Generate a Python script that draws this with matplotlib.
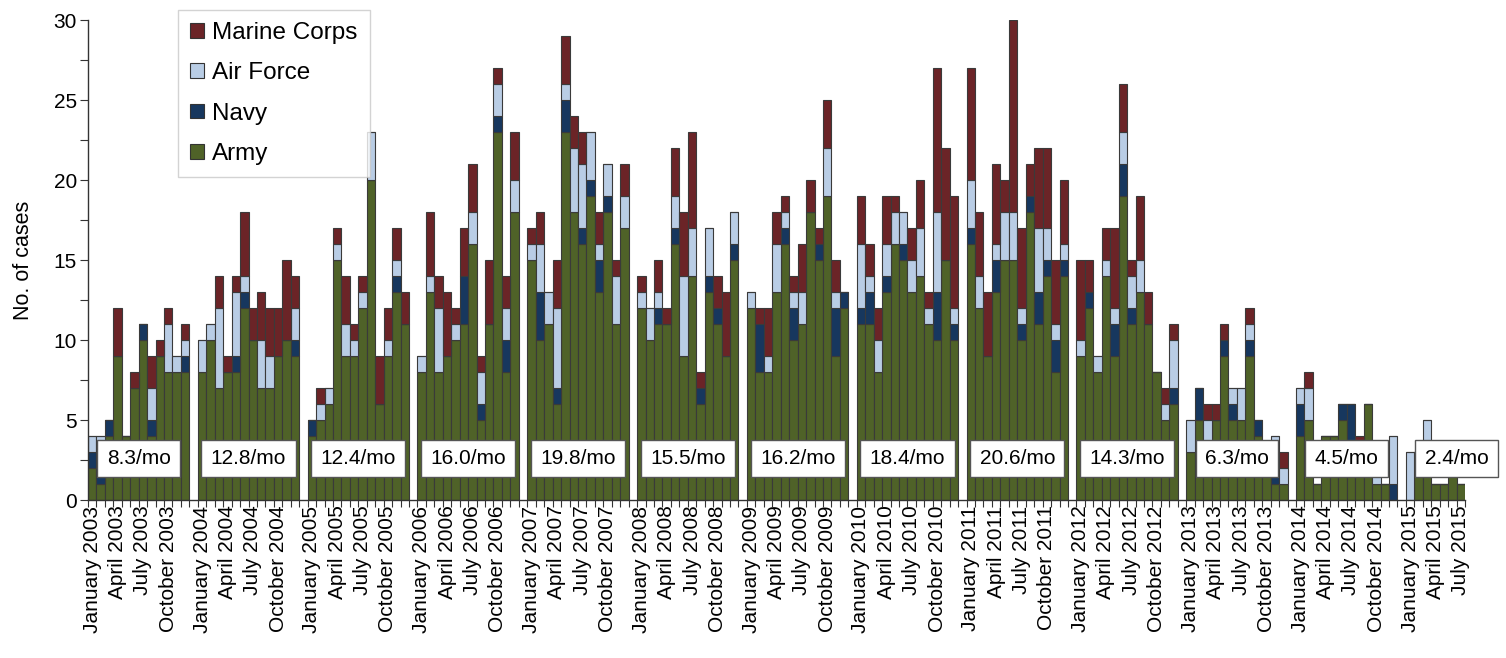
import numpy as np
import matplotlib
matplotlib.use('Agg')
import matplotlib.pyplot as plt
from matplotlib.patches import Patch

plt.rcParams['font.family'] = ['Liberation Sans', 'DejaVu Sans']

years = list(range(2003, 2016))
month_names = ['January', 'April', 'July', 'October']

# monthly counts, Jan 2003 .. Jul 2015 (one row per year)
army = [
    2, 1, 4, 9, 4, 7, 10, 4, 9, 8, 8, 8,
    8, 10, 7, 8, 8, 12, 10, 7, 7, 9, 10, 9,
    4, 5, 6, 15, 9, 9, 12, 20, 6, 9, 13, 11,
    8, 13, 8, 9, 10, 11, 16, 5, 11, 23, 8, 18,
    15, 10, 11, 6, 23, 18, 16, 19, 13, 18, 11, 17,
    12, 10, 11, 11, 16, 9, 14, 6, 13, 11, 9, 15,
    12, 8, 8, 13, 16, 10, 11, 18, 15, 19, 9, 12,
    11, 11, 8, 13, 16, 15, 13, 14, 11, 10, 15, 10,
    16, 12, 9, 13, 15, 15, 10, 18, 11, 14, 8, 14,
    9, 12, 8, 14, 9, 19, 11, 13, 11, 8, 5, 6,
    3, 5, 3, 5, 9, 5, 5, 9, 4, 3, 1, 1,
    4, 5, 1, 4, 4, 5, 3, 3, 6, 1, 1, 0,
    0, 3, 3, 1, 1, 3, 1,
]
navy = [
    1, 1, 1, 0, 0, 0, 1, 1, 0, 0, 0, 1,
    0, 0, 0, 0, 1, 1, 0, 0, 0, 0, 0, 1,
    1, 0, 0, 0, 0, 0, 0, 0, 0, 0, 1, 0,
    0, 0, 0, 0, 0, 3, 0, 1, 0, 1, 2, 0,
    0, 3, 0, 1, 2, 0, 1, 1, 2, 1, 0, 0,
    0, 0, 1, 0, 1, 0, 0, 1, 1, 1, 0, 1,
    0, 3, 0, 0, 1, 2, 0, 0, 1, 0, 3, 1,
    1, 2, 0, 1, 0, 1, 0, 0, 0, 3, 0, 1,
    1, 0, 0, 2, 0, 0, 1, 1, 2, 1, 2, 1,
    0, 1, 0, 0, 2, 2, 1, 0, 0, 0, 0, 1,
    0, 2, 0, 0, 1, 1, 0, 1, 1, 0, 1, 0,
    2, 0, 0, 0, 0, 1, 3, 0, 0, 0, 0, 1,
    0, 0, 0, 0, 0, 0, 0,
]
air_force = [
    1, 2, 0, 0, 0, 0, 0, 2, 0, 3, 1, 1,
    2, 1, 5, 0, 4, 1, 0, 3, 2, 0, 0, 2,
    0, 1, 1, 1, 2, 1, 1, 3, 0, 1, 1, 0,
    1, 1, 4, 0, 1, 0, 2, 2, 0, 2, 2, 2,
    1, 3, 2, 5, 1, 4, 4, 3, 1, 2, 3, 2,
    1, 2, 1, 0, 2, 5, 3, 0, 3, 0, 0, 2,
    1, 0, 1, 3, 1, 1, 2, 0, 0, 3, 1, 0,
    4, 1, 2, 2, 2, 2, 2, 3, 1, 5, 0, 1,
    3, 2, 0, 1, 3, 3, 1, 0, 4, 2, 1, 1,
    1, 0, 1, 1, 1, 2, 2, 2, 0, 0, 1, 3,
    2, 0, 2, 0, 0, 1, 2, 1, 0, 0, 2, 1,
    1, 2, 0, 0, 0, 0, 0, 0, 0, 2, 0, 3,
    3, 0, 2, 0, 0, 0, 0,
]
marines = [
    0, 0, 0, 3, 0, 1, 0, 2, 1, 1, 0, 1,
    0, 0, 2, 1, 1, 4, 2, 3, 3, 3, 5, 2,
    0, 1, 0, 1, 3, 1, 1, 0, 3, 2, 2, 2,
    0, 4, 2, 4, 1, 3, 3, 1, 4, 1, 2, 3,
    1, 2, 0, 3, 3, 2, 2, 0, 2, 0, 1, 2,
    1, 0, 2, 1, 3, 4, 6, 1, 0, 2, 4, 0,
    0, 1, 3, 2, 1, 1, 3, 2, 1, 3, 2, 0,
    3, 2, 2, 3, 1, 0, 2, 3, 1, 9, 7, 7,
    7, 4, 4, 5, 2, 12, 5, 2, 5, 5, 4, 4,
    5, 2, 0, 2, 5, 3, 1, 4, 2, 0, 1, 1,
    0, 0, 1, 1, 1, 0, 0, 1, 0, 0, 0, 1,
    0, 1, 0, 0, 0, 0, 0, 1, 0, 0, 0, 0,
    0, 0, 0, 0, 0, 0, 0,
]
rates = ['8.3/mo', '12.8/mo', '12.4/mo', '16.0/mo', '19.8/mo', '15.5/mo',
         '16.2/mo', '18.4/mo', '20.6/mo', '14.3/mo', '6.3/mo', '4.5/mo', '2.4/mo']

services = [('Army', army, '#4f6228'),
            ('Navy', navy, '#17375e'),
            ('Air Force', air_force, '#b9cde5'),
            ('Marine Corps', marines, '#6b2427')]

n = len(army)
idx = np.arange(n)
xpos = (idx // 12) * 13 + idx % 12   # one empty slot between years

fig = plt.figure(figsize=(15.06, 6.58), dpi=100)
ax = fig.add_axes([88 / 1506, 1 - 500 / 658, 1377 / 1506, 480 / 658])

bottom = np.zeros(n)
for name, vals, col in services:
    vals = np.array(vals, dtype=float)
    ax.bar(xpos, vals, width=1.0, bottom=bottom, color=col,
           edgecolor='#3a3a3a', linewidth=0.8, zorder=2)
    bottom += vals

ax.set_xlim(-0.5, 12 * 13 + 6.5)
ax.set_ylim(0, 30)
ax.set_yticks(np.arange(0, 31, 5))
ax.set_yticks(np.arange(2.5, 30, 5), minor=True)
ax.tick_params(axis='y', which='both', direction='out', length=6, width=0.8,
               labelsize=15, color='#333333', pad=2)

# month labels every quarter
tick_x, tick_lab = [], []
for i, yr in enumerate(years):
    for j, m in enumerate(month_names):
        mi = j * 3
        if i * 12 + mi < n:
            tick_x.append(i * 13 + mi)
            tick_lab.append(f'{m} {yr}')
ax.set_xticks(tick_x)
ax.set_xticklabels(tick_lab, rotation=90, fontsize=15)
ax.set_xticks(np.arange(-0.5, 12 * 13 + 7, 1), minor=True)
ax.tick_params(axis='x', which='major', length=0, pad=4)
ax.tick_params(axis='x', which='minor', direction='out', length=5, width=0.8,
               color='#333333')

for s in ['top', 'right']:
    ax.spines[s].set_visible(False)
for s in ['left', 'bottom']:
    ax.spines[s].set_color('#333333')
    ax.spines[s].set_linewidth(1.0)

ax.set_ylabel('No. of cases', fontsize=15.5, labelpad=14)

for i, txt in enumerate(rates):
    ax.text(i * 13 + 5.5, 2.6, txt, ha='center', va='center', fontsize=15,
            zorder=5, clip_on=False,
            bbox=dict(boxstyle='square,pad=0.45', fc='white', ec='#555555', lw=1.0))

handles = [Patch(facecolor=c, edgecolor='#333333', linewidth=0.8, label=nm)
           for nm, _, c in services[::-1]]
leg = ax.legend(handles=handles, loc='upper left',
                bbox_to_anchor=(178 / 1506, 1 - 10 / 658), bbox_transform=fig.transFigure,
                fontsize=17.5, frameon=True, fancybox=False, borderaxespad=0,
                handlelength=0.55, handleheight=0.55, handletextpad=0.35,
                labelspacing=0.75, borderpad=0.5)
leg.get_frame().set_edgecolor('#c8c8c8')
leg.get_frame().set_linewidth(1.0)
leg.set_zorder(10)

fig.savefig('out.png', dpi=100)
